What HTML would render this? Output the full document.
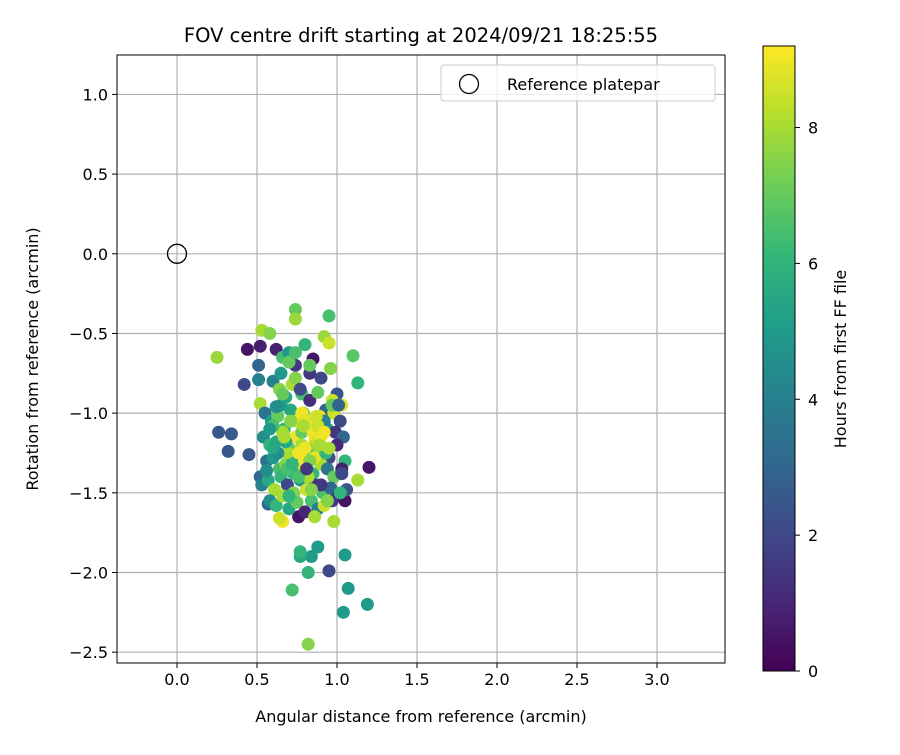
<!DOCTYPE html>
<html><head><meta charset="utf-8"><style>
body{margin:0;background:#fff;font-family:"Liberation Sans","DejaVu Sans",sans-serif;}
svg text{font-family:"DejaVu Sans","Liberation Sans",sans-serif;}
</style></head><body>
<svg id="chart" width="900" height="750" viewBox="0 0 900 750" xmlns="http://www.w3.org/2000/svg"></svg>
<script>
const xTicks=[0.0,0.5,1.0,1.5,2.0,2.5,3.0];
const yTicks=[1.0,0.5,0.0,-0.5,-1.0,-1.5,-2.0,-2.5];
const cTicks=[0,2,4,6,8];
const xs=[0.25,0.44,0.52,0.42,0.26,0.34,0.32,0.45,0.74,0.74,0.95,0.92,0.95,1.10,1.13,1.20,1.13,1.05,0.82,0.72,1.04,1.19,1.07,1.05,0.95,0.88,0.84,0.77,0.82,0.77,0.53,0.58,0.51,0.51,0.98,0.66,0.64,0.76,0.57,0.52,0.52,
0.62,0.66,0.70,0.74,0.80,0.85,0.90,0.96,1.00,1.03,0.60,0.64,0.68,0.72,0.78,0.83,0.88,0.93,0.98,1.02,0.55,0.59,0.63,0.67,0.71,0.75,0.79,0.84,0.89,0.94,0.99,1.04,0.54,0.58,0.62,0.66,0.70,0.74,0.78,0.82,0.86,0.90,0.95,1.00,1.05,
0.56,0.60,0.64,0.68,0.72,0.76,0.80,0.85,0.90,0.94,0.98,1.03,0.53,0.57,0.61,0.65,0.69,0.73,0.77,0.81,0.86,0.91,0.96,1.01,1.06,0.58,0.62,0.66,0.70,0.75,0.80,0.84,0.88,0.92,0.97,1.02,0.60,0.65,0.69,0.73,0.78,0.83,0.87,0.92,0.97,1.03,
0.78,0.81,0.85,0.88,0.76,0.80,0.86,0.90,0.79,0.83,0.87,0.65,0.70,0.74,0.63,0.69,0.93,0.97,1.01,0.90,0.94,0.82,0.86,0.72,0.68,
0.58,0.62,0.67,0.71,0.76,0.81,0.88,0.92,0.60,0.66,0.74,0.84,0.89,0.56,0.70,0.77,0.83,0.95];
const ys=[-0.65,-0.60,-0.58,-0.82,-1.12,-1.13,-1.24,-1.26,-0.35,-0.41,-0.39,-0.52,-0.56,-0.64,-0.81,-1.34,-1.42,-1.55,-2.45,-2.11,-2.25,-2.20,-2.10,-1.89,-1.99,-1.84,-1.90,-1.90,-2.00,-1.87,-0.48,-0.50,-0.70,-0.79,-1.68,-1.68,-1.66,-1.65,-1.57,-0.94,-1.40,
-0.60,-0.65,-0.62,-0.70,-0.57,-0.66,-0.78,-0.72,-0.88,-0.95,-0.80,-0.85,-0.90,-0.82,-0.88,-0.92,-0.87,-0.98,-1.00,-1.05,-1.00,-1.05,-1.02,-1.10,-0.98,-1.05,-1.00,-1.08,-1.02,-1.10,-1.12,-1.15,-1.15,-1.20,-1.18,-1.12,-1.22,-1.15,-1.20,-1.25,-1.18,-1.22,-1.28,-1.20,-1.30,
-1.30,-1.28,-1.35,-1.32,-1.28,-1.35,-1.30,-1.38,-1.32,-1.35,-1.40,-1.35,-1.45,-1.42,-1.48,-1.40,-1.45,-1.50,-1.42,-1.48,-1.45,-1.50,-1.47,-1.52,-1.48,-1.55,-1.58,-1.52,-1.60,-1.56,-1.62,-1.55,-1.60,-1.58,-1.55,-1.50,-1.08,-0.95,-1.25,-1.38,-1.12,-0.75,-1.20,-1.05,-0.92,-1.38,
-1.00,-1.05,-1.12,-1.18,-1.25,-1.22,-1.28,-1.15,-1.08,-1.30,-1.02,-0.75,-0.68,-0.78,-1.25,-1.35,-1.25,-0.95,-0.95,-1.45,-1.55,-1.40,-1.65,-1.32,-1.18,
-1.10,-0.96,-1.15,-1.05,-1.40,-1.35,-1.08,-1.12,-1.22,-0.88,-0.62,-1.48,-1.20,-1.36,-1.52,-0.85,-0.70,-1.22];
const cs=[7.8,0.5,0.8,2,2.5,2.5,2.5,2.5,7,7.8,6.5,7.8,8.5,6.8,6,0.5,8,0.5,7.5,6.5,5,5,5,5,2,5,5,5.5,6,6,8,7.5,3,4,8,9,8.5,0.5,3,8,3,
0.8,6.5,5,1.5,6,0.5,2,7.5,2.5,8.8,4,7.5,5.5,8,6.5,1.2,7,3,8.5,2,3.5,5,7,6,5.5,8.5,7.5,6.5,9,5,1.5,3,4.5,6,5.5,8,7,9,8,6.5,9,7.5,2,1,6,
3.5,5,6.5,7.5,5.5,8.5,9,6,8,3.5,7,0.8,4,5.5,8,6,2,7.5,5,8.5,1.2,6.5,3,0.5,2.5,4.5,6,8,5.5,7,1,6.5,4,8.5,1.5,6,6.5,5,8,6,7,1.5,7.5,4,8.5,2,
9,8.8,9,8.5,9,9,8.8,9,8,7.5,8.5,5,7,7.5,4.5,6.5,6,7,3,1.5,7.5,8,8,6,5.5,
5,4.5,8,7.5,6.5,1.5,8.5,9,5.5,7,6.5,7.5,8,4.5,6,2,7,8];

const NS='http://www.w3.org/2000/svg';
const svg=document.getElementById('chart');
function mk(t,a,p){const e=document.createElementNS(NS,t);for(const k in a)e.setAttribute(k,a[k]);(p||svg).appendChild(e);return e;}
const L=117,R=725,T=55,B=663;
const xmin=-0.375,xmax=3.425,ymin=-2.568,ymax=1.2475;
function sx(v){return L+(v-xmin)/(xmax-xmin)*(R-L);}
function sy(v){return B-(v-ymin)/(ymax-ymin)*(B-T);}
const CT=46,CB=671,cmax=9.2;
function sc(v){return CB-v/cmax*(CB-CT);}
const vir=[[68,1,84],[72,40,120],[62,74,137],[49,104,142],[38,130,142],[31,158,137],[53,183,121],[109,205,89],[180,222,44],[253,231,37]];
function col(v){if(!isFinite(v))v=0;let t=Math.max(0,Math.min(1,v/cmax))*(vir.length-1);let i=Math.min(Math.floor(t),vir.length-2),f=t-i;const a=vir[i],b=vir[i+1];return 'rgb('+a.map((x,k)=>Math.round(x+(b[k]-x)*f)).join(',')+')';}

const grid=mk('g',{});
xTicks.forEach(v=>{const l=mk('line',{x1:sx(v),x2:sx(v),y1:T,y2:B,stroke:'#b0b0b0','stroke-width':1.2},grid);});
yTicks.forEach(v=>{const l=mk('line',{x1:L,x2:R,y1:sy(v),y2:sy(v),stroke:'#b0b0b0','stroke-width':1.2},grid);});
const pts=mk('g',{});
const n=Math.min(xs.length,ys.length,cs.length);
for(let i=0;i<n;i++){const c=mk('circle',{cx:sx(xs[i]),cy:sy(ys[i]),r:6.5,fill:col(cs[i])},pts);}
const ref=mk('circle',{cx:sx(0),cy:sy(0),r:9.5,fill:'none',stroke:'#000','stroke-width':1.3});

const fr=mk('rect',{x:L,y:T,width:R-L,height:B-T,fill:'none',stroke:'#000','stroke-width':1});

xTicks.forEach(v=>{mk('line',{x1:sx(v),x2:sx(v),y1:B,y2:B+5,stroke:'#000'});const t=mk('text',{x:sx(v),y:B+22,'text-anchor':'middle','font-size':16});t.textContent=v.toFixed(1);});
yTicks.forEach(v=>{mk('line',{x1:L-5,x2:L,y1:sy(v),y2:sy(v),stroke:'#000'});const t=mk('text',{x:L-9,y:sy(v)+6,'text-anchor':'end','font-size':16});t.textContent=(v<0?'\u2212':'')+Math.abs(v).toFixed(1);});
let t=mk('text',{x:421,y:42,'text-anchor':'middle','font-size':19.5});t.textContent='FOV centre drift starting at 2024/09/21 18:25:55';
t=mk('text',{x:421,y:722,'text-anchor':'middle','font-size':16});t.textContent='Angular distance from reference (arcmin)';
t=mk('text',{x:38,y:359,'text-anchor':'middle','font-size':16,transform:'rotate(-90 38 359)'});t.textContent='Rotation from reference (arcmin)';
const lg=mk('g',{});
mk('rect',{x:441,y:65,width:274,height:36,rx:3,fill:'#fff','fill-opacity':0.8,stroke:'#ccc'},lg);
mk('circle',{cx:469,cy:84,r:9.5,fill:'none',stroke:'#000','stroke-width':1.3},lg);
t=mk('text',{x:507,y:90,'font-size':16},lg);t.textContent='Reference platepar';
const defs=mk('defs',{});const gr=mk('linearGradient',{id:'vg',x1:0,y1:1,x2:0,y2:0},defs);
vir.forEach((c,i)=>mk('stop',{offset:i/(vir.length-1),'stop-color':'rgb('+c.join(',')+')'},gr));
const cb=mk('rect',{x:763,y:CT,width:32,height:CB-CT,fill:'url(#vg)',stroke:'#000','stroke-width':1});

cTicks.forEach(v=>{mk('line',{x1:795,x2:800,y1:sc(v),y2:sc(v),stroke:'#000'});const tt=mk('text',{x:808,y:sc(v)+6,'font-size':16});tt.textContent=v;});
t=mk('text',{x:846,y:359,'text-anchor':'middle','font-size':16,transform:'rotate(-90 846 359)'});t.textContent='Hours from first FF file';
</script>
</body></html>
